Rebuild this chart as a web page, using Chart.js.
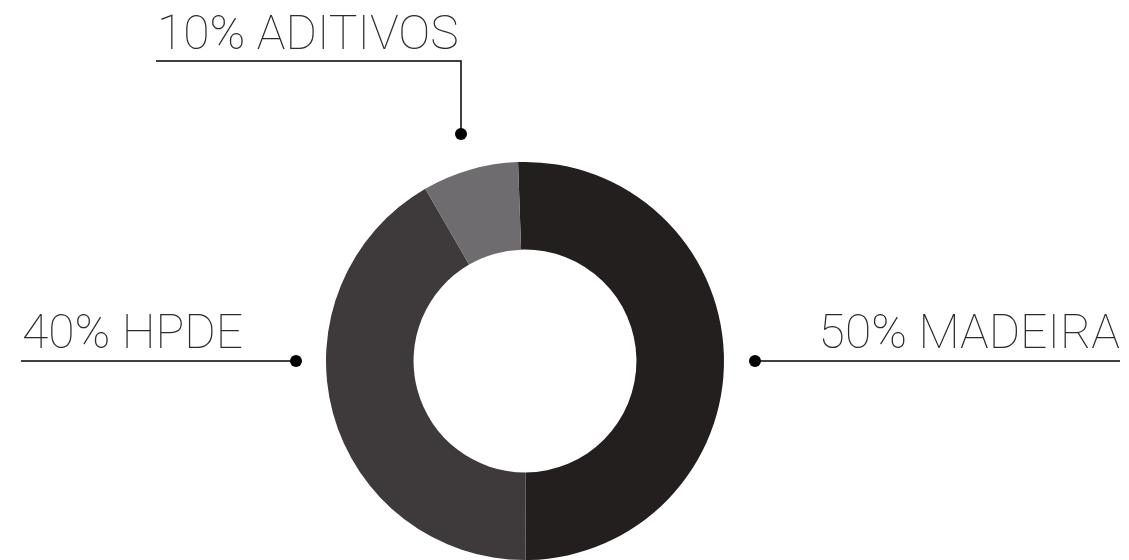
<!DOCTYPE html>
<html>
<head>
<meta charset="utf-8">
<script src="https://cdn.jsdelivr.net/npm/chart.js@4.4.0/dist/chart.umd.min.js"></script>
<style>
  html, body { margin: 0; padding: 0; background: #ffffff; }
  #wrap { width: 1129px; height: 560px; position: relative; }
</style>
</head>
<body>
<div id="wrap"><canvas id="donut"></canvas></div>
<script>
// values (clockwise from the top)
const materials = ['MADEIRA', 'HPDE', 'ADITIVOS'];
const shares = [50.5, 41.7, 7.8];
const shareLabels = ['50%', '40%', '10%'];
const sliceColors = ['#231f1f', '#3e3a3b', '#6e6c6f'];

// callout lines: dot offset from the centre, line end points, text anchor
const callouts = [
    { dot: [230, 0], line: [[230, 0], [595, 0]], text: [595, -13], align: 'right' },
    { dot: [-229, 0], line: [[-229, 0], [-504, 0]], text: [-503, -13], align: 'left' },
    { dot: [-64, -227], line: [[-64, -227], [-64, -300], [-369, -300]], text: [-368, -312], align: 'left' }
];

const calloutPlugin = {
    id: 'callouts',
    afterDraw(chart) {
        const arc = chart.getDatasetMeta(0).data[0];
        if (!arc) return;
        const cx = arc.x, cy = arc.y;
        const ctx = chart.ctx;
        ctx.save();
        callouts.forEach((c, i) => {
            ctx.strokeStyle = '#000000';
            ctx.lineWidth = 1.5;
            ctx.beginPath();
            c.line.forEach((p, j) => {
                if (j === 0) ctx.moveTo(cx + p[0], cy + p[1]);
                else ctx.lineTo(cx + p[0], cy + p[1]);
            });
            ctx.stroke();

            ctx.fillStyle = '#000000';
            ctx.beginPath();
            ctx.arc(cx + c.dot[0], cy + c.dot[1], 6, 0, Math.PI * 2);
            ctx.fill();

            ctx.fillStyle = '#2b2b2b';
            ctx.font = '100 48px Roboto, "Noto Sans", sans-serif';
            ctx.textAlign = c.align;
            ctx.textBaseline = 'alphabetic';
            ctx.fillText(shareLabels[i] + ' ' + materials[i], cx + c.text[0], cy + c.text[1]);
        });
        ctx.restore();
    }
};

new Chart(document.getElementById('donut').getContext('2d'), {
    type: 'doughnut',
    data: {
        labels: materials,
        datasets: [{
            data: shares,
            backgroundColor: sliceColors,
            borderWidth: 0
        }]
    },
    options: {
        responsive: true,
        maintainAspectRatio: false,
        animation: false,
        cutout: '56%',
        rotation: -2,
        layout: { padding: { left: 325, right: 404, top: 162, bottom: -2 } },
        plugins: {
            legend: { display: false },
            tooltip: { enabled: false }
        }
    },
    plugins: [calloutPlugin]
});
</script>
</body>
</html>
